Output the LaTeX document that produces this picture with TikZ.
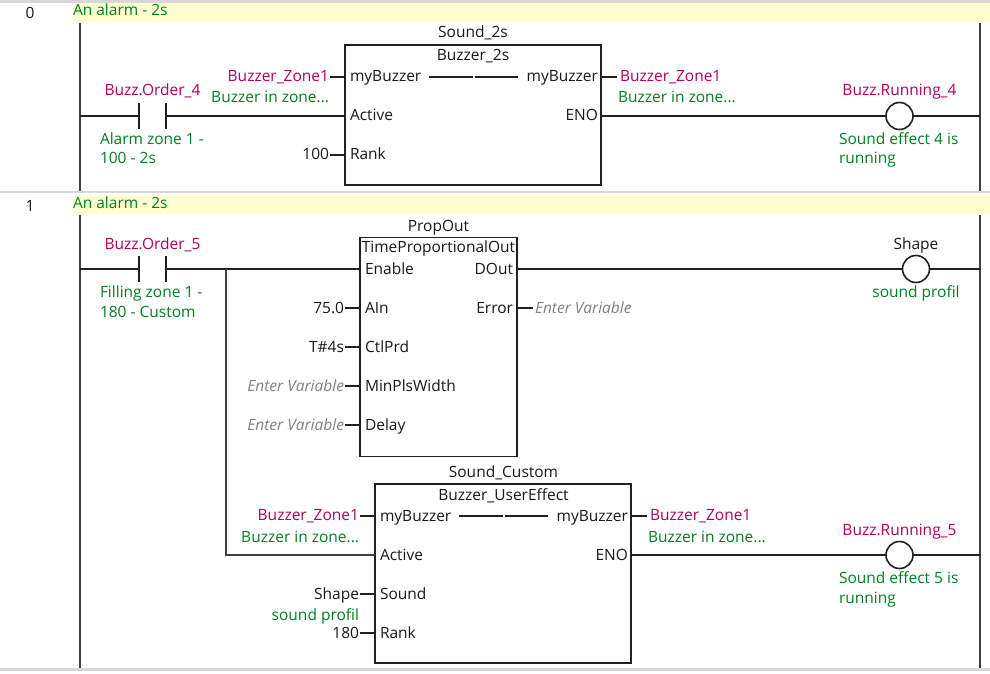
\documentclass[tikz,border=0pt]{standalone}
\usepackage{fontspec}
\setmainfont{Open Sans}
\definecolor{railc}{RGB}{64,64,64}
\definecolor{wirec}{RGB}{32,32,32}
\definecolor{sepc}{RGB}{216,216,216}
\definecolor{bandc}{RGB}{255,255,208}
\definecolor{varc}{RGB}{176,0,96}
\definecolor{cmtc}{RGB}{0,128,32}
\definecolor{grayt}{RGB}{128,128,128}
\tikzset{
  every node/.style={inner sep=0pt,outer sep=0pt,font=\fontsize{15.5}{18}\selectfont,text=black!90},
  rail/.style={draw=railc,line width=2.2pt},
  wire/.style={draw=wirec,line width=1.5pt},
  branch/.style={draw=railc,line width=1.8pt},
  bar/.style={draw=wirec,line width=1.6pt},
  fb/.style={draw=wirec,line width=1.6pt,rectangle,fill=white},
  coil/.style={draw=wirec,line width=1.6pt,circle,minimum size=27pt,fill=white},
  sep/.style={draw=sepc,line width=2.5pt},
  band/.style={fill=bandc,draw=none},
  tc/.style={anchor=base},
  tl/.style={anchor=base west},
  tr/.style={anchor=base east},
  var/.style={text=varc},
  cmt/.style={text=cmtc},
  hint/.style={text=grayt,font=\fontsize{15.5}{18}\selectfont\itshape},
}
\begin{document}
\begin{tikzpicture}[x=1pt,y=-1pt]
\useasboundingbox (0,0) rectangle (990,674);
% separators and bands
\coordinate (s0a) at (0,1.5); \coordinate (s0b) at (990,1.5);
\coordinate (s1a) at (0,192); \coordinate (s1b) at (990,192);
\coordinate (s2a) at (0,669.5); \coordinate (s2b) at (990,669.5);
\draw[sep] (s0a) -- (s0b);
\draw[sep] (s1a) -- (s1b);
\draw[sep] (s2a) -- (s2b);
\fill[band] (73,3) rectangle (990,22);
\fill[band] (73,194.5) rectangle (990,214);
\node[tc] (n0) at (30,19) {0};
\node[tc] (n1) at (30,211) {1};
\node[tl,cmt] (c0) at (73,16) {An alarm - 2s};
\node[tl,cmt] (c1) at (73,208) {An alarm - 2s};
% rails
\coordinate (la0) at (80,23); \coordinate (lb0) at (80,191);
\coordinate (la1) at (80,215); \coordinate (lb1) at (80,668);
\coordinate (ra0) at (980,23); \coordinate (rb0) at (980,191);
\coordinate (ra1) at (980,215); \coordinate (rb1) at (980,668);
\draw[rail] (la0) -- (lb0);
\draw[rail] (la1) -- (lb1);
\draw[rail] (ra0) -- (rb0);
\draw[rail] (ra1) -- (rb1);
% blocks
\node[fb,minimum width=256pt,minimum height=140pt] (b1) at (473,115) {};
\node[fb,minimum width=157pt,minimum height=219pt] (b2) at (438.5,347) {};
\node[fb,minimum width=256pt,minimum height=179pt] (b3) at (503,573.5) {};
% rung 0 left
\coordinate (r0l) at (80,116);
\coordinate (k1a) at (139,116); \coordinate (k1b) at (166,116);
\coordinate (k1at) at (139,103); \coordinate (k1ab) at (139,129);
\coordinate (k1bt) at (166,103); \coordinate (k1bb) at (166,129);
\coordinate (b1act) at (345,116);
\draw[wire] (r0l) -- (k1a);
\draw[bar] (k1at) -- (k1ab);
\draw[bar] (k1bt) -- (k1bb);
\draw[wire] (k1b) -- (b1act);
\node[tc,var] (t1) at (152.5,96) {Buzz.Order\_4};
\node[tl,cmt] (t2) at (100,144) {Alarm zone 1 -};
\node[tl,cmt] (t3) at (100,164) {100 - 2s};
% block 1 texts
\node[tc] (t4) at (473,38) {Sound\_2s};
\node[tc] (t5) at (473,61) {Buzzer\_2s};
\node[tl] (p11) at (350,82) {myBuzzer};
\node[tl] (p12) at (350,121) {Active};
\node[tl] (p13) at (350,160) {Rank};
\node[tr] (p14) at (598,82) {myBuzzer};
\node[tr] (p15) at (598,121) {ENO};
\coordinate (i1a) at (429,77); \coordinate (i1b) at (472.5,77);
\coordinate (i1c) at (474.5,77); \coordinate (i1d) at (518,77);
\draw[wire] (i1a) -- (i1b);
\draw[wire] (i1c) -- (i1d);
\node[tr,var] (v11) at (329,82) {Buzzer\_Zone1};
\node[tr,cmt] (v12) at (329,103) {Buzzer in zone...};
\node[tr] (v13) at (329,160) {100};
\node[tl,var] (v14) at (620,82) {Buzzer\_Zone1};
\node[tl,cmt] (v15) at (618,103) {Buzzer in zone...};
\coordinate (s11a) at (329.5,77); \coordinate (s11b) at (345,77);
\coordinate (s13a) at (329.5,155); \coordinate (s13b) at (345,155);
\coordinate (s14a) at (601,77); \coordinate (s14b) at (617,77);
\draw[wire] (s11a) -- (s11b);
\draw[wire] (s13a) -- (s13b);
\draw[wire] (s14a) -- (s14b);
% coil 0
\node[coil] (q0) at (899.5,116) {};
\coordinate (b1eno) at (601,116); \coordinate (r0r) at (980,116);
\draw[wire] (b1eno) -- (q0);
\draw[wire] (q0) -- (r0r);
\node[tc,var] (t6) at (899.5,96) {Buzz.Running\_4};
\node[tl,cmt] (t7) at (839,144) {Sound effect 4 is};
\node[tl,cmt] (t8) at (839,164) {running};
% rung 1
\coordinate (r1l) at (80,269);
\coordinate (k2a) at (139,269); \coordinate (k2b) at (166,269);
\coordinate (k2at) at (139,256); \coordinate (k2ab) at (139,282);
\coordinate (k2bt) at (166,256); \coordinate (k2bb) at (166,282);
\coordinate (b2en) at (360,269);
\draw[wire] (r1l) -- (k2a);
\draw[bar] (k2at) -- (k2ab);
\draw[bar] (k2bt) -- (k2bb);
\draw[wire] (k2b) -- (b2en);
\node[tc,var] (t9) at (152.5,249) {Buzz.Order\_5};
\node[tl,cmt] (t10) at (100,297) {Filling zone 1 -};
\node[tl,cmt] (t11) at (100,317) {180 - Custom};
% branch
\coordinate (j) at (226,269); \coordinate (jb) at (226,555); \coordinate (b3act) at (375,555);
\draw[branch,line join=miter] (j) -- (jb) -- (b3act);
% block 2 texts
\node[tc] (t12) at (438.5,231) {PropOut};
\node[tc] (t13) at (438.5,252) {TimeProportionalOut};
\node[tl] (p21) at (365,274) {Enable};
\node[tl] (p22) at (365,313) {AIn};
\node[tl] (p23) at (365,352) {CtlPrd};
\node[tl] (p24) at (365,391) {MinPlsWidth};
\node[tl] (p25) at (365,430) {Delay};
\node[tr] (p26) at (513,274) {DOut};
\node[tr] (p27) at (513,313) {Error};
\node[tr] (v21) at (344,313) {75.0};
\node[tr] (v22) at (344,352) {T\#4s};
\node[tr,hint] (v23) at (344,391) {Enter Variable};
\node[tr,hint] (v24) at (344,430) {Enter Variable};
\node[tl,hint] (v25) at (535,313) {Enter Variable};
\coordinate (s21a) at (344.5,308); \coordinate (s21b) at (360,308);
\coordinate (s22a) at (344.5,347); \coordinate (s22b) at (360,347);
\coordinate (s23a) at (344.5,386); \coordinate (s23b) at (360,386);
\coordinate (s24a) at (344.5,425); \coordinate (s24b) at (360,425);
\coordinate (s25a) at (517,308); \coordinate (s25b) at (533,308);
\draw[wire] (s21a) -- (s21b);
\draw[wire] (s22a) -- (s22b);
\draw[wire] (s23a) -- (s23b);
\draw[wire] (s24a) -- (s24b);
\draw[wire] (s25a) -- (s25b);
% coil 1
\node[coil] (q1) at (916,269) {};
\coordinate (b2do) at (517,269); \coordinate (r1r) at (980,269);
\draw[wire] (b2do) -- (q1);
\draw[wire] (q1) -- (r1r);
\node[tc] (t14) at (916,249) {Shape};
\node[tc,cmt] (t15) at (916,297) {sound profil};
% block 3 texts
\node[tc] (t16) at (503.5,477) {Sound\_Custom};
\node[tc] (t17) at (503.5,500) {Buzzer\_UserEffect};
\node[tl] (p31) at (380,521) {myBuzzer};
\node[tl] (p32) at (380,560) {Active};
\node[tl] (p33) at (380,599) {Sound};
\node[tl] (p34) at (380,638) {Rank};
\node[tr] (p35) at (628,521) {myBuzzer};
\node[tr] (p36) at (628,560) {ENO};
\coordinate (i3a) at (459,516); \coordinate (i3b) at (502.5,516);
\coordinate (i3c) at (504.5,516); \coordinate (i3d) at (548,516);
\draw[wire] (i3a) -- (i3b);
\draw[wire] (i3c) -- (i3d);
\node[tr,var] (v31) at (359,520) {Buzzer\_Zone1};
\node[tr,cmt] (v32) at (359,542) {Buzzer in zone...};
\node[tr] (v33) at (359,599) {Shape};
\node[tr,cmt] (v34) at (359,620) {sound profil};
\node[tr] (v35) at (359,638) {180};
\node[tl,var] (v36) at (650,520) {Buzzer\_Zone1};
\node[tl,cmt] (v37) at (648,542) {Buzzer in zone...};
\coordinate (s31a) at (359.5,516); \coordinate (s31b) at (375,516);
\coordinate (s33a) at (359.5,594); \coordinate (s33b) at (375,594);
\coordinate (s34a) at (359.5,633); \coordinate (s34b) at (375,633);
\coordinate (s35a) at (631,516); \coordinate (s35b) at (647,516);
\draw[wire] (s31a) -- (s31b);
\draw[wire] (s33a) -- (s33b);
\draw[wire] (s34a) -- (s34b);
\draw[wire] (s35a) -- (s35b);
% coil 2
\node[coil] (q2) at (899.5,555) {};
\coordinate (b3eno) at (631,555); \coordinate (r2r) at (980,555);
\draw[wire] (b3eno) -- (q2);
\draw[wire] (q2) -- (r2r);
\node[tc,var] (t18) at (899.5,535) {Buzz.Running\_5};
\node[tl,cmt] (t19) at (839,583) {Sound effect 5 is};
\node[tl,cmt] (t20) at (839,603) {running};
\end{tikzpicture}
\end{document}
